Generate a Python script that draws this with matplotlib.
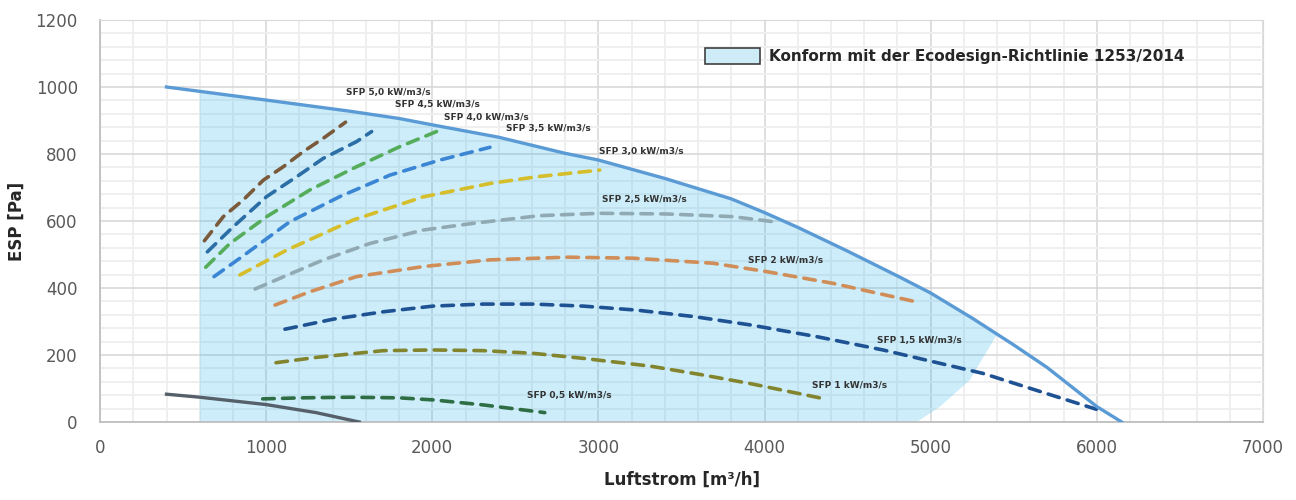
import matplotlib
matplotlib.use("Agg")
import matplotlib.pyplot as plt
from matplotlib.patches import Patch
from matplotlib.ticker import MultipleLocator

# Kennlinie (max. Druck)
main_x = [400, 1000, 1500, 1800, 2000, 2400, 2800, 3000, 3400, 3800, 4000, 4200,
          4500, 4800, 5000, 5250, 5500, 5700, 6000, 6150]
main_y = [1000, 961, 928, 906, 887, 850, 802, 782, 727, 666, 625, 581,
          510, 436, 385, 310, 230, 163, 46, 0]

# untere Kennlinie
low_x = [400, 600, 1000, 1300, 1560]
low_y = [83, 74, 52, 28, 0]

# Bereich Ecodesign 1253/2014
eco_x = [600, 1000, 1500, 1800, 2000, 2400, 2800, 3000, 3400, 3800, 4000, 4200,
         4500, 4800, 5000, 5250, 5400, 5325, 5235, 5054, 4916, 600]
eco_y = [987, 961, 928, 906, 887, 850, 802, 782, 727, 666, 625, 581,
         510, 436, 385, 310, 262, 200, 125, 45, 0, 0]

# SFP-Kurven
sfp_names = ['SFP 5,0 kW/m3/s', 'SFP 4,5 kW/m3/s', 'SFP 4,0 kW/m3/s', 'SFP 3,5 kW/m3/s',
             'SFP 3,0 kW/m3/s', 'SFP 2,5 kW/m3/s', 'SFP 2 kW/m3/s', 'SFP 1,5 kW/m3/s',
             'SFP 1 kW/m3/s', 'SFP 0,5 kW/m3/s']
sfp_x = [[628, 742, 862, 983, 1103, 1223, 1344, 1478],
         [646, 802, 1003, 1183, 1344, 1544, 1635],
         [636, 782, 1003, 1264, 1544, 1805, 2050],
         [686, 842, 1143, 1444, 1745, 2046, 2347],
         [842, 1123, 1524, 1945, 2347, 2627, 3008],
         [933, 1083, 1344, 1625, 1945, 2246, 2647, 3008, 3410, 3810, 4051],
         [1053, 1264, 1544, 1945, 2347, 2808, 3209, 3689, 4011, 4411, 4928],
         [1113, 1404, 1705, 2005, 2306, 2607, 2908, 3229, 3570, 3911, 4312, 4713, 5315, 5997],
         [1059, 1304, 1705, 2005, 2306, 2607, 2908, 3309, 3610, 3911, 4362],
         [979, 1203, 1504, 1805, 2005, 2306, 2677]]
sfp_y = [[541, 613, 663, 722, 762, 807, 847, 895],
         [508, 583, 673, 732, 787, 837, 867],
         [462, 533, 613, 693, 762, 822, 872],
         [434, 489, 598, 673, 737, 782, 820],
         [439, 513, 603, 672, 712, 732, 752],
         [397, 429, 484, 533, 573, 593, 616, 623, 621, 613, 598],
         [349, 389, 434, 464, 484, 492, 489, 474, 449, 414, 357],
         [277, 307, 329, 346, 352, 352, 346, 334, 315, 290, 255, 215, 145, 38],
         [177, 193, 213, 215, 213, 205, 190, 167, 142, 115, 69],
         [69, 72, 74, 72, 66, 51, 28]]
sfp_label_x = [1480, 1775, 2070, 2443, 3002, 3020, 3899, 4675, 4284, 2569]
sfp_label_y = [985, 949, 910, 875, 806, 663, 484, 242, 110, 78]
sfp_colors = ['#7b5a3c', '#2b6ea6', '#55ad5b', '#3a86d4', '#d6bd2a', '#91a9b3',
              '#d08d58', '#1f5293', '#83842e', '#2f6e45']

fig = plt.figure(figsize=(12.96, 5.0), dpi=100)
ax = fig.add_axes([0.0772, 0.156, 0.8973, 0.804])

ax.set_xlim(0, 7000)
ax.set_ylim(0, 1200)
ax.xaxis.set_major_locator(MultipleLocator(1000))
ax.xaxis.set_minor_locator(MultipleLocator(200))
ax.yaxis.set_major_locator(MultipleLocator(200))
ax.yaxis.set_minor_locator(MultipleLocator(40))
ax.set_axisbelow(True)
ax.grid(which='major', color='#d9d9d9', linewidth=1.2)
ax.grid(which='minor', color='#efefef', linewidth=1.4)
ax.tick_params(which='both', length=0)
ax.tick_params(axis='x', pad=12, labelsize=12, labelcolor='#595959')
ax.tick_params(axis='y', pad=16, labelsize=12, labelcolor='#595959')
for s in ['top', 'right']:
    ax.spines[s].set_color('#d9d9d9')
for s in ['left', 'bottom']:
    ax.spines[s].set_color('#bfbfbf')
    ax.spines[s].set_linewidth(1.3)

ax.fill(eco_x, eco_y, color='#1bb1e7', alpha=0.22, linewidth=0, zorder=1)

for i in range(len(sfp_names)):
    ax.plot(sfp_x[i], sfp_y[i], color=sfp_colors[i], linewidth=2.6,
            linestyle=(0, (3.2, 2.3)), dash_capstyle='round', zorder=3)
    ax.text(sfp_label_x[i], sfp_label_y[i], sfp_names[i], fontsize=6.5,
            fontweight='bold', color='#333333', va='center', ha='left', zorder=5)

ax.plot(main_x, main_y, color='#5b9bd5', linewidth=2.4, zorder=4)
ax.plot(low_x, low_y, color='#55606a', linewidth=2.4, zorder=4)

ax.set_xlabel('Luftstrom [m³/h]', fontsize=12, fontweight='bold', color='#262626', labelpad=10)
ax.set_ylabel('ESP [Pa]', fontsize=12, fontweight='bold', color='#262626', labelpad=7)

h = Patch(facecolor='#cdecf8', edgecolor='#404040', linewidth=1.2)
ax.legend([h], ['Konform mit der Ecodesign-Richtlinie 1253/2014'], loc='center left',
          bbox_to_anchor=(0.508, 0.91), frameon=False, handlelength=3.6, handleheight=1.2,
          prop={'size': 11, 'weight': 'bold'}, labelcolor='#262626', handletextpad=0.6)

fig.savefig('out.png', dpi=100)
